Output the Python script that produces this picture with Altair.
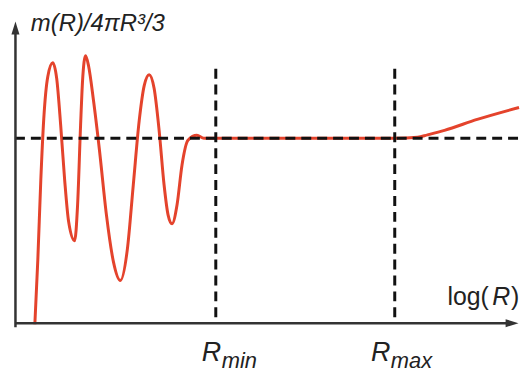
import altair as alt
import pandas as pd

# curve (x = log R units, y = m(R)/(4πR³/3) units)
curve_x = [20, 23, 26, 29, 33, 38, 42, 46, 50, 54, 60, 63, 66, 68, 71, 74, 79, 85, 92, 99,
           106, 113, 119, 125, 130, 135, 140, 145, 150, 154, 158, 163, 168, 174, 183, 190,
           285, 382, 405, 415, 432, 465, 507]
curve_y = [0, 65, 145, 207, 249, 263, 247, 200, 145, 103, 84, 120, 200, 245, 270, 260, 225, 175, 110, 63,
           44, 75, 140, 205, 240, 251, 237, 195, 140, 110, 101, 120, 160, 185, 190, 187,
           187, 187, 188, 190.5, 195, 206, 218]

level = 187           # horizontal dashed level
level_x_end = 507
r_marks = [202, 382]  # R_min, R_max
r_top = 263
r_bottom = 7

W, H = 518, 366
xs = alt.Scale(domain=[-7, W - 7], nice=False, zero=False)
ys = alt.Scale(domain=[317 - H, 317], nice=False, zero=False)


def X(f):
    return alt.X(f, type="quantitative", scale=xs, axis=None)


def Y(f):
    return alt.Y(f, type="quantitative", scale=ys, axis=None)


curve_df = pd.DataFrame({"x": curve_x, "y": curve_y})
curve = alt.Chart(curve_df).mark_line(
    color="#e4432c", strokeWidth=3, interpolate="monotone"
).encode(x=X("x"), y=Y("y"))

hline = alt.Chart(pd.DataFrame({"x": [0], "x2": [level_x_end], "y": [level]})).mark_rule(
    color="#111111", strokeWidth=3, strokeDash=[10, 6]
).encode(x=X("x"), x2="x2", y=Y("y"))

vlines = alt.Chart(pd.DataFrame({"x": r_marks, "y": [r_bottom] * 2, "y2": [r_top] * 2})).mark_rule(
    color="#111111", strokeWidth=3, strokeDash=[10, 6]
).encode(x=X("x"), y=Y("y"), y2="y2")

axis_col = "#333333"
xaxis = alt.Chart(pd.DataFrame({"x": [0], "x2": [496], "y": [1]})).mark_rule(
    color=axis_col, strokeWidth=2.5
).encode(x=X("x"), x2="x2", y=Y("y"))
yaxis = alt.Chart(pd.DataFrame({"x": [0.5], "y": [-3], "y2": [292]})).mark_rule(
    color=axis_col, strokeWidth=2.5
).encode(x=X("x"), y=Y("y"), y2="y2")

arrow_r = alt.Chart(pd.DataFrame({"x": [500], "y": [1]})).mark_point(
    shape="M1,0L-1,-0.62L-1,0.62Z", filled=True, size=169, color=axis_col, opacity=1
).encode(x=X("x"), y=Y("y"))
arrow_u = alt.Chart(pd.DataFrame({"x": [0.5], "y": [298]})).mark_point(
    shape="M0,-1L0.62,1L-0.62,1Z", filled=True, size=169, color=axis_col, opacity=1
).encode(x=X("x"), y=Y("y"))

texts = pd.DataFrame({
    "x": [16, 435, 480, 499, 188, 208, 358, 378],
    "y": [295, 19, 19, 19, -37, -44, -37, -44],
    "t": ["m(R)/4πR³/3", "log(", "R", ")", "R", "min", "R", "max"],
    "size": [24, 25, 25, 25, 27, 22, 27, 22],
    "style": ["italic", "normal", "italic", "normal", "italic", "italic", "italic", "italic"],
})


def txt(row):
    return alt.Chart(pd.DataFrame([row])).mark_text(
        align="left", baseline="alphabetic", font="Liberation Sans",
        fontSize=row["size"], fontStyle=row["style"], color="#222222"
    ).encode(x=X("x"), y=Y("y"), text="t:N")


text_layers = [txt(r) for r in texts.to_dict("records")]

chart = alt.layer(curve, hline, vlines, xaxis, yaxis, arrow_r, arrow_u, *text_layers).properties(
    width=W, height=H, autosize=alt.AutoSizeParams(type="none"), padding=0
).configure_view(stroke=None)

chart.save("out.html", embed_options={"renderer": "svg", "actions": False})
